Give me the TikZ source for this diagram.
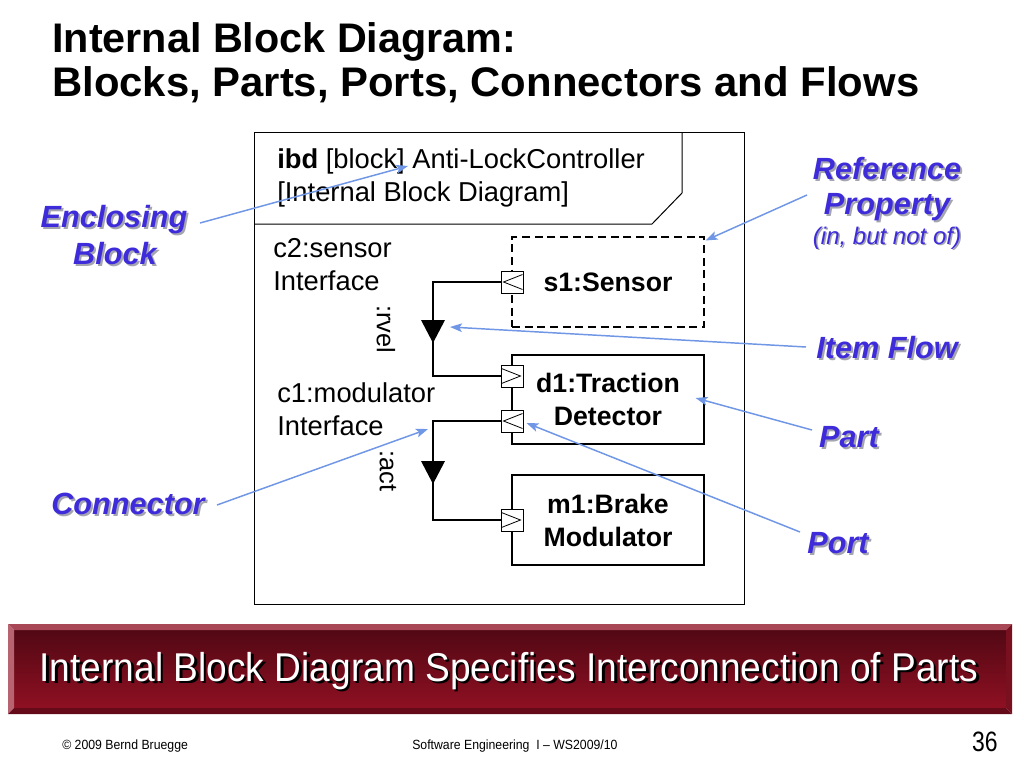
\documentclass[tikz,border=0pt]{standalone}
\usepackage{fontspec}
\setmainfont{Liberation Sans}
\usetikzlibrary{arrows.meta,calc}
\definecolor{lblblue}{RGB}{62,44,218}
\definecolor{lblshadow}{RGB}{165,165,175}
\definecolor{callblue}{RGB}{112,150,230}
\definecolor{bannerA}{RGB}{82,8,20}
\definecolor{bannerB}{RGB}{142,16,34}
\newcommand\bluelabel[4][23]{%
  \node[anchor=base, text=lblshadow, font=\fontsize{#1}{#1}\selectfont\bfseries\itshape] at ($(#2)+(2,2)$) {#4};
  \node[anchor=base, text=lblblue, font=\fontsize{#1}{#1}\selectfont\bfseries\itshape] (#3) at (#2) {#4};}
\begin{document}
\begin{tikzpicture}[x=0.75pt,y=-0.75pt,
  line/.style={draw=black, line width=0.8pt},
  part/.style={draw=black, line width=0.8pt, fill=white, minimum width=144pt, inner sep=0pt, align=center,
    font=\fontsize{20}{24.75}\selectfont\bfseries},
  port/.style={draw=black, line width=0.7pt, fill=white, minimum width=16.5pt, minimum height=16.5pt, inner sep=0pt},
  chev/.style={draw=black, line width=0.6pt},
  dtext/.style={anchor=base west, inner sep=0pt, font=\fontsize{20.5}{24.75}\selectfont},
  callout/.style={draw=callblue, line width=1.1pt, -{Stealth[length=9pt,width=6.5pt,inset=2pt]}}
]
\useasboundingbox (0,0) rectangle (1024,768);
\fill[white] (0,0) rectangle (1024,768);

% title
\node[anchor=base west, inner sep=0pt, font=\fontsize{31}{36}\selectfont\bfseries] (t1) at (52,52) {Internal Block Diagram:};
\node[anchor=base west, inner sep=0pt, font=\fontsize{31}{36}\selectfont\bfseries] (t2) at (52,96) {\scalebox{1.012}[1]{Blocks, Parts, Ports, Connectors and Flows}};

% frame
\node[draw=black, line width=0.75pt, minimum width=367.5pt, minimum height=354pt, inner sep=0pt] (frame) at (499,368) {};
\coordinate (h1) at (254,224);
\coordinate (h2) at (652,224);
\coordinate (h3) at (682,193);
\coordinate (h4) at (682,132);
\draw[line width=0.75pt] (h1) -- (h2) -- (h3) -- (h4);
\node[dtext] (hd1) at (277,168) {\textbf{ibd} [block] Anti-LockController};
\node[dtext] (hd2) at (277,201) {[Internal Block Diagram]};

\node[dtext] (c2a) at (273,257) {c2:sensor};
\node[dtext] (c2b) at (273,290) {Interface};
\node[dtext] (c1a) at (277,402) {c1:modulator};
\node[dtext] (c1b) at (277,435) {Interface};

\node[rotate=-90, inner sep=0pt, font=\fontsize{19}{24}\selectfont] (rvel) at (386,329) {:rvel};
\node[rotate=-90, inner sep=0pt, font=\fontsize{19}{24}\selectfont] (act) at (388,471) {:act};

% parts
\node[part, dash pattern=on 6pt off 3.5pt, minimum height=67.5pt] (s1) at (608,282) {s1:Sensor};
\node[part, minimum height=66.75pt] (d1) at (608,399.5) {d1:Traction\\Detector};
\node[part, minimum height=67.5pt] (m1) at (608,520) {m1:Brake\\Modulator};

% ports
\node[port] (ps1) at (512,282) {};
\node[port] (pd1) at (512,376) {};
\node[port] (pd2) at (512,421) {};
\node[port] (pm1) at (512,520) {};
\draw[chev] ($(ps1.north east)+(-1,4)$) -- ($(ps1.west)+(3,0)$) -- ($(ps1.south east)+(-1,-4)$);
\draw[chev] ($(pd2.north east)+(-1,4)$) -- ($(pd2.west)+(3,0)$) -- ($(pd2.south east)+(-1,-4)$);
\draw[chev] ($(pd1.north west)+(1,4)$) -- ($(pd1.east)+(-3,0)$) -- ($(pd1.south west)+(1,-4)$);
\draw[chev] ($(pm1.north west)+(1,4)$) -- ($(pm1.east)+(-3,0)$) -- ($(pm1.south west)+(1,-4)$);

% connectors with item flows
\coordinate (f1) at (433,331);
\coordinate (f2) at (433,472);
\draw[line] (ps1.west) -| (f1) |- (pd1.west);
\draw[line] (pd2.west) -| (f2) |- (pm1.west);
\fill[black] ($(f1)+(-12,-11)$) -- ($(f1)+(12,-11)$) -- ($(f1)+(0,12)$) -- cycle;
\fill[black] ($(f2)+(-12,-11)$) -- ($(f2)+(12,-11)$) -- ($(f2)+(0,12)$) -- cycle;

% blue labels
\coordinate (encP1) at (114,227);
\coordinate (encP2) at (115,264);
\bluelabel{encP1}{enc1}{Enclosing}
\bluelabel{encP2}{enc2}{Block}
\coordinate (refP1) at (887,179);
\coordinate (refP2) at (887,214);
\coordinate (refP3) at (887,244);
\bluelabel{refP1}{ref1}{Reference}
\bluelabel{refP2}{ref2}{Property}
\node[anchor=base, text=lblshadow, font=\fontsize{18}{18}\selectfont\itshape] at ($(refP3)+(1.5,1.5)$) {(in, but not of)};
\node[anchor=base, text=lblblue, font=\fontsize{18}{18}\selectfont\itshape] (ref3) at (refP3) {(in, but not of)};
\coordinate (itP) at (887,358);
\bluelabel{itP}{item}{Item Flow}
\coordinate (ptP) at (849,447);
\bluelabel{ptP}{partl}{Part}
\coordinate (poP) at (838,553);
\bluelabel{poP}{portl}{Port}
\coordinate (coP) at (128,514);
\bluelabel{coP}{conl}{Connector}

% callout arrows
\coordinate (encS) at (200,223);
\coordinate (encT) at (408,166);
\coordinate (refS) at (807,195);
\coordinate (itS) at (806,347);
\coordinate (ptS) at (812,430);
\coordinate (poS) at (800,532);
\coordinate (coS) at (217,505);
\coordinate (coT) at (428,429);
\draw[callout] (encS) -- (encT);
\draw[callout] (refS) -- ($(s1.north east)+(1,4)$);
\draw[callout] (itS) -- ($(f1)+(17,-4)$);
\draw[callout] (ptS) -- ($(d1.east)+(-9,-1.5)$);
\draw[callout] (poS) -- ($(pd2.east)+(3,2)$);
\draw[callout] (coS) -- (coT);

% banner
\coordinate (bo1) at (8,624);
\coordinate (bo2) at (1012,624);
\coordinate (bo3) at (1012,714);
\coordinate (bo4) at (8,714);
\coordinate (bi1) at (14,630);
\coordinate (bi2) at (1006,630);
\coordinate (bi3) at (1006,708);
\coordinate (bi4) at (14,708);
\shade[top color=bannerA, bottom color=bannerB] (bi1) rectangle (bi3);
\fill[color={rgb,255:red,168;green,72;blue,86}] (bo1) -- (bo2) -- (bi2) -- (bi1) -- cycle;
\fill[color={rgb,255:red,184;green,100;blue,112}] (bo1) -- (bi1) -- (bi4) -- (bo4) -- cycle;
\fill[color={rgb,255:red,100;green,10;blue,24}] (bo4) -- (bi4) -- (bi3) -- (bo3) -- cycle;
\fill[color={rgb,255:red,120;green,16;blue,32}] (bo2) -- (bo3) -- (bi3) -- (bi2) -- cycle;
\node[anchor=base, text=black, inner sep=0pt, font=\fontsize{29}{29}\selectfont] at (511.5,683.5) {\scalebox{0.96}[1.04]{Internal Block Diagram Specifies Interconnection of Parts}};
\node[anchor=base, text=white, inner sep=0pt, font=\fontsize{29}{29}\selectfont] (banner) at (509,681) {\scalebox{0.96}[1.04]{Internal Block Diagram Specifies Interconnection of Parts}};

% footer
\node[anchor=base west, inner sep=0pt, font=\fontsize{10}{10}\selectfont] (copy) at (62,749) {\scalebox{0.92}[1]{© 2009 Bernd Bruegge}};
\node[anchor=base west, inner sep=0pt, font=\fontsize{10}{10}\selectfont] (course) at (412,749) {\scalebox{0.92}[1]{Software Engineering \ I – WS2009/10}};
\node[anchor=base east, inner sep=0pt, font=\fontsize{21}{21}\selectfont] (pg) at (998,751) {\scalebox{0.82}[1]{36}};
\end{tikzpicture}
\end{document}
